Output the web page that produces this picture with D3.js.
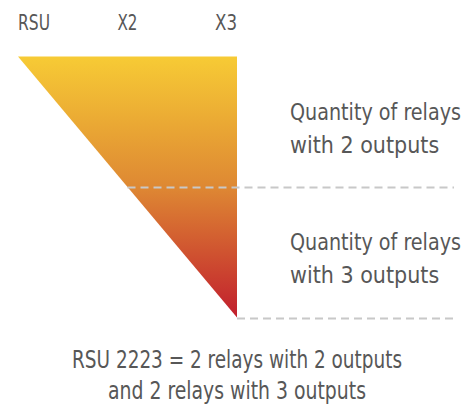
<!DOCTYPE html>
<html>
<head>
<meta charset="utf-8">
<script src="https://cdn.jsdelivr.net/npm/d3@7"></script>
<style>
  body { margin: 0; background: #fff; }
  text { font-family: "DejaVu Sans Condensed", "DejaVu Sans", sans-serif; font-stretch: condensed; fill: #575757; }
</style>
</head>
<body>
<div id="chart"></div>
<script>
// columns on top of the triangle
var columns = ["RSU", "X2", "X3"];
// relay groups, top to bottom
var groupLabels = [["Quantity of relays", "with 2 outputs"], ["Quantity of relays", "with 3 outputs"]];
var groupCounts = [2, 2];
var captionLines = ["RSU 2223 = 2 relays with 2 outputs", "and 2 relays with 3 outputs"];
var gradientColors = ["#f7cb35", "#de8833", "#c11e2d"];

var svgWidth = 470, svgHeight = 410;

var svg = d3.select("#chart").append("svg")
    .attr("width", svgWidth)
    .attr("height", svgHeight);

var total = d3.sum(groupCounts);

var xScale = d3.scaleLinear().domain([0, total]).range([18, 237]);
var yScale = d3.scaleLinear().domain([0, total]).range([56.5, 317.5]);
var colScale = d3.scalePoint().domain(columns).range([18, 237]);

// squeeze a text to a given width (reference font is narrower)
function fitWidth(sel, w) {
    sel.each(function(d, i) {
        var target = typeof w === "function" ? w(d, i) : w;
        var len = this.getComputedTextLength();
        if (len > target) {
            d3.select(this).attr("textLength", target).attr("lengthAdjust", "spacingAndGlyphs");
        }
    });
}

// gradient
var grad = svg.append("defs").append("linearGradient")
    .attr("id", "tri")
    .attr("x1", 0).attr("y1", 0).attr("x2", 0).attr("y2", 1);
grad.selectAll("stop")
    .data(gradientColors)
    .enter().append("stop")
    .attr("offset", (d, i) => i / (gradientColors.length - 1))
    .attr("stop-color", d => d);

// triangle
var pts = [[xScale(0), yScale(0)], [xScale(total), yScale(0)], [xScale(total), yScale(total)]];
svg.append("path")
    .attr("d", d3.line()(pts) + "Z")
    .attr("fill", "url(#tri)");

// column labels
svg.selectAll(".col")
    .data(columns)
    .enter().append("text")
    .attr("class", "col")
    .attr("x", d => colScale(d))
    .attr("y", 30)
    .attr("text-anchor", (d, i) => i === 0 ? "start" : (i === columns.length - 1 ? "end" : "middle"))
    .style("font-size", "21px")
    .text(d => d)
    .call(fitWidth, (d, i) => [32, 20, 22][i]);

// group separators and labels
var cum = d3.cumsum(groupCounts);
var groups = groupCounts.map((c, i) => ({
    start: i === 0 ? 0 : cum[i - 1],
    end: cum[i],
    lines: groupLabels[i]
}));

svg.selectAll(".sep")
    .data(groups)
    .enter().append("line")
    .attr("class", "sep")
    .attr("x1", d => xScale(d.end))
    .attr("x2", 454)
    .attr("y1", d => Math.round(yScale(d.end)) + 0.5)
    .attr("y2", d => Math.round(yScale(d.end)) + 0.5)
    .attr("stroke", "#c8c8c8")
    .attr("stroke-width", 2)
    .attr("stroke-dasharray", "8,5");

groups.forEach(function(g) {
    var mid = (yScale(g.start) + yScale(g.end)) / 2;
    svg.selectAll(null)
        .data(g.lines)
        .enter().append("text")
        .attr("class", "lbl")
        .attr("x", 290)
        .attr("y", (d, j) => mid - 2 + j * 33)
        .style("font-size", "23px")
        .text(d => d)
        .call(fitWidth, (d, j) => [171, 166][j]);
});

// caption
svg.selectAll(".cap")
    .data(captionLines)
    .enter().append("text")
    .attr("class", "cap")
    .attr("x", 237)
    .attr("y", (d, i) => 368 + i * 31)
    .attr("text-anchor", "middle")
    .style("font-size", "24px")
    .text(d => d)
    .call(fitWidth, (d, i) => [330, 258][i]);
</script>
</body>
</html>
